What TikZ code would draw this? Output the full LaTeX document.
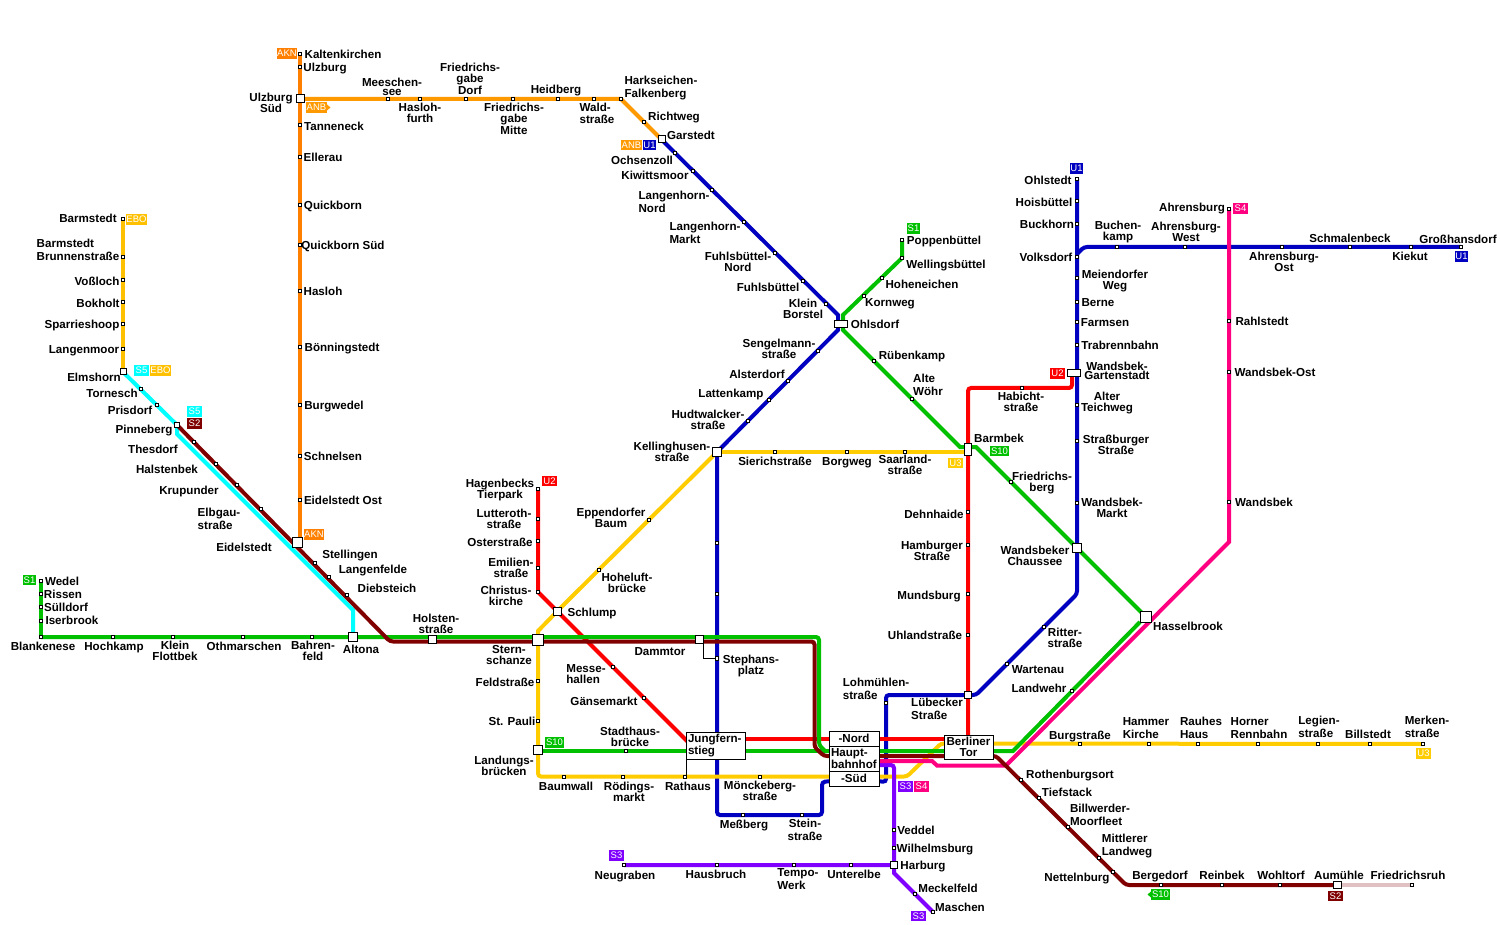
\documentclass[tikz,border=0pt]{standalone}
\usepackage{fontspec}
\setmainfont{Liberation Sans}
\definecolor{cakn}{HTML}{FF8000}
\definecolor{canb}{HTML}{FF9900}
\definecolor{cebo}{HTML}{FFC000}
\definecolor{cuthree}{HTML}{FFCC00}
\definecolor{cuone}{HTML}{0000C0}
\definecolor{cutwo}{HTML}{FF0000}
\definecolor{csone}{HTML}{00C000}
\definecolor{cstwo}{HTML}{800000}
\definecolor{csthree}{HTML}{8000FF}
\definecolor{csfour}{HTML}{FF0080}
\definecolor{csfive}{HTML}{00FFFF}
\definecolor{cpale}{HTML}{E0C0C0}
\pgfdeclarelayer{lines}
\pgfsetlayers{lines,main}
\tikzset{
  stop/.style={draw=black,fill=white,line width=1pt,minimum size=3.8pt,inner sep=0pt,outer sep=0pt},
  hub/.style={draw=black,fill=white,line width=1pt,inner sep=0pt,outer sep=0pt},
  lab/.style={inner sep=0pt,outer sep=0pt,yshift=-1pt,text=black,font=\fontsize{11.6}{11}\selectfont\bfseries},
  tag/.style={inner sep=0pt,outer sep=0pt,text=white,minimum height=10.5pt,font=\fontsize{9.5}{10}\selectfont},
  boxed/.style={draw=black,fill=white,line width=1pt,inner sep=1.5pt,outer sep=0pt,text=black,font=\fontsize{11.6}{12.5}\selectfont\bfseries},
  rail/.style={line width=4pt,line join=miter,line cap=butt},
  railr/.style={rail,rounded corners=3pt},
  thin/.style={draw=black,line width=0.9pt}
}
\newcommand{\stn}[3]{\node[stop] (#1) at (#2,#3) {};}
\newcommand{\hb}[5]{\node[hub,minimum width=#4pt,minimum height=#5pt] (#1) at (#2,#3) {};}
\newcommand{\lab}[5][center]{\node[lab,align=#1] (l#2) at (#3,#4) {\rule{0pt}{9pt}#5\rule[-2.5pt]{0pt}{2.5pt}};}
\newcommand{\tagn}[6]{\node[tag,fill=#5,minimum width=#6pt] (#1) at (#3,#4) {#2};}
\begin{document}
\begin{tikzpicture}[x=1pt,y=-1pt]
\useasboundingbox (0,0) rectangle (1500,925);
% ---- AKN
\stn{kalt}{300}{54}\stn{ulzb}{300}{67}\hb{ulzs}{300}{99}{8}{8}\stn{tann}{300}{125}\stn{elle}{300}{157}
\stn{quic}{300}{205}\stn{quis}{300}{245}\stn{hasl}{300}{291}\stn{boen}{300}{347}\stn{burg}{300}{405}
\stn{schn}{300}{456}\stn{eido}{300}{500}
% ---- ANB
\stn{mees}{388}{99}\stn{hafu}{420}{99}\stn{frdo}{466}{99}\stn{frmi}{513}{99}\stn{heid}{558}{99}
\stn{wald}{594}{99}\stn{hark}{621}{99}\stn{rich}{644}{122}\hb{gars}{661.5}{139.5}{7}{7}
% ---- U1
\stn{ochs}{675}{153}\stn{kiwi}{693}{171}\stn{lano}{712}{190}\stn{lama}{744}{222}\stn{funo}{775}{253}
\stn{fuhl}{803}{281}\stn{kbor}{826}{304}\hb{ohls}{841}{324}{13}{7}\stn{seng}{818}{351}\stn{alst}{788}{381}
\stn{latt}{769}{400}\stn{hudt}{748}{421}\hb{kell}{717}{452}{9}{9}\stn{klos}{717}{543}\stn{hall}{717}{594}
\stn{step}{717}{658.5}\stn{mess}{743}{815}\stn{stei}{802}{815}\stn{lohm}{886}{703}\hb{lueb}{968}{695}{7}{7}
\stn{wart}{1007}{664}\stn{ritt}{1044}{627}\hb{wach}{1077}{548}{9}{9}\stn{wama}{1077}{503}\stn{stra}{1077}{441}
\stn{alte}{1077}{405}\hb{wgar}{1074}{373}{13}{7}\stn{trab}{1077}{345}\stn{farm}{1077}{322}\stn{bern}{1077}{302}
\stn{meie}{1077}{278}\stn{volk}{1077}{257}\stn{buck}{1077}{224}\stn{hois}{1077}{201}\stn{ohlt}{1077}{179}
\stn{buch}{1117}{247}\stn{ahwe}{1185}{247}\stn{ahos}{1282}{247}\stn{schm}{1350}{247}\stn{kiek}{1411}{247}\stn{gros}{1461}{247}
% ---- U2
\stn{hage}{538}{489}\stn{lutt}{538}{519}\stn{oste}{538}{541}\stn{emil}{538}{568}\stn{chri}{538}{592}
\hb{schl}{557.5}{611}{8}{8}\stn{mehs}{613}{667}\stn{gaen}{644}{698}
\stn{uhla}{968}{635}\stn{muns}{968}{594}\stn{hams}{968}{545}\stn{dehn}{968}{512}\hb{barm}{968}{449}{7}{12}\stn{habi}{1022}{388}
% ---- U3
\stn{eppe}{649}{520}\stn{hohe}{599}{570}\hb{ster}{538}{640}{11}{11}\stn{feld}{538}{681}\stn{paul}{538}{721}
\hb{land}{538}{750}{9}{9}\stn{baum}{564}{777}\stn{roed}{623}{777}\stn{rath}{685}{777}\stn{moen}{760}{777}
\stn{sier}{775}{452}\stn{borg}{847}{452}\stn{saar}{905}{452}
\stn{bust}{1080}{744}\stn{hamm}{1149}{744}\stn{rauh}{1198}{744}\stn{horn}{1258}{744}\stn{legi}{1318}{744}\stn{bill}{1370}{744}\stn{merk}{1423}{744}
% ---- S1
\stn{popp}{902}{240}\stn{well}{902}{258}\stn{hone}{882}{278}\stn{korn}{864}{296}\stn{ruen}{874}{361}\stn{aweh}{912}{399}
\stn{frie}{1011}{482}\hb{hass}{1146}{617}{11}{11}\stn{lawe}{1072}{691}
\stn{wede}{41}{581}\stn{riss}{41}{594}\stn{suel}{41}{607}\stn{iser}{41}{621}\stn{blan}{41}{637}\stn{hoch}{113}{637}
\stn{flot}{173}{637}\stn{othm}{243}{637}\stn{bahr}{312}{637}\hb{alto}{353}{637}{9}{9}\hb{hols}{432}{639}{8}{8}\hb{damm}{699}{639}{8}{8}
\stn{stha}{626}{751}
% ---- S2 / S5 / EBO
\hb{pinn}{177}{425}{5.5}{5.5}\stn{thes}{194}{442}\stn{hals}{216}{464}\stn{krup}{237}{485}\stn{elbg}{261}{509}
\hb{eide}{297}{542}{10}{10}\stn{stel}{315}{563}\stn{lang}{329}{577}\stn{dieb}{347}{595}
\stn{roth}{1021}{780}\stn{tief}{1039}{798}\stn{bimo}{1068}{827}\stn{mitt}{1099}{858}\stn{nett}{1113}{872}
\stn{berg}{1161}{885}\stn{rein}{1222}{885}\stn{wohl}{1280}{885}\hb{aumu}{1337}{885}{8}{7}\stn{frru}{1412}{885}
\hb{elms}{123}{372}{6}{6}\stn{torn}{141}{389}\stn{pris}{157}{405}
\stn{barm1}{123}{219}\stn{barm2}{123}{257}\stn{voss}{123}{280}\stn{bokh}{123}{302}\stn{spar}{123}{324}\stn{lanm}{123}{349}
% ---- S3 / S4
\stn{neug}{624}{865}\stn{haus}{717}{865}\stn{temp}{794}{865}\stn{unte}{851}{865}\hb{harb}{894}{865}{7}{7}
\stn{wilh}{894}{848}\stn{vedd}{894}{830}\stn{meck}{915}{894}\stn{masc}{933}{912}
\stn{ahre}{1229}{209}\stn{rahl}{1229}{321}\stn{waos}{1229}{372}\stn{wand}{1229}{502}
% ---- boxes
\node[boxed,minimum width=59pt,minimum height=27pt,align=left,text width=55pt] (jung) at (715.5,745.5) {Jungfern-\\stieg};
\node[boxed,minimum width=50pt,minimum height=15pt,align=center,text width=46pt] (hbfn) at (854,738.5) {-Nord};
\node[boxed,minimum width=50pt,minimum height=25pt,align=left,text width=46pt] (hbfm) at (854,758.5) {Haupt-\\bahnhof};
\node[boxed,minimum width=50pt,minimum height=15pt,align=center,text width=46pt] (hbfs) at (854,778.5) {-Süd};
\node[boxed,minimum width=49pt,minimum height=24pt,align=center,text width=45pt] (bert) at (968.5,747) {Berliner\\[-2pt]Tor};
% ---- bends
\coordinate (cakne) at (300,538);
\coordinate (cuoa) at (838,315); \coordinate (cuob) at (838,330);
\coordinate (cuoc) at (717,815); \coordinate (cuod) at (822,815); \coordinate (cuoe) at (822,782);
\coordinate (cuof) at (886,782); \coordinate (cuog) at (886,695); \coordinate (cuoh) at (976,695);
\coordinate (cuoi) at (1077,594); \coordinate (cuoj) at (1077,254); \coordinate (cuok) at (1084,247);
\coordinate (curk) at (690,744);
\coordinate (curj) at (690,739); \coordinate (curb) at (950,739); \coordinate (curt) at (968,738);
\coordinate (curc) at (968,388); \coordinate (curd) at (1072,388); \coordinate (cure) at (1072,373);
\coordinate (cyst) at (538,631); \coordinate (cyco) at (538,776.5); \coordinate (cyre) at (907,776.5);
\coordinate (cyup) at (941,743.5); \coordinate (cybm) at (968,452);
\coordinate (cgoa) at (843,315); \coordinate (cgob) at (843,330); \coordinate (cgoc) at (960,447);
\coordinate (cgod) at (976,447); \coordinate (cgoe) at (1142,613); \coordinate (cgof) at (1140,622);
\coordinate (cgog) at (1013,751); \coordinate (cgoh) at (819,637); \coordinate (cgoi) at (819,745);
\coordinate (cgoj) at (825,751); \coordinate (cgow) at (41,637); \coordinate (cgol) at (538,751);
\coordinate (cbra) at (390,641.5); \coordinate (cbrb) at (814.5,641.5); \coordinate (cbrc) at (814.5,747);
\coordinate (cbrd) at (824,756); \coordinate (cbre) at (996,756); \coordinate (cbrf) at (1126,885);
\coordinate (ccya) at (177,434); \coordinate (ccyb) at (353,610);
\coordinate (cpua) at (894,873); \coordinate (cpub) at (894,765); \coordinate (cpuc) at (879,765);
\coordinate (cpia) at (1229,542); \coordinate (cpib) at (1006,765.5); \coordinate (cpic) at (937,765.5);
\coordinate (cpid) at (932,761); \coordinate (cpie) at (879,761);
% ---- lines
\begin{pgfonlayer}{lines}
\fill[white] (0,0) rectangle (1500,925);
\draw[rail,cuone] (gars.center) -- (cuoa) -- (cuob) -- (kell.center);
\draw[railr,cuone] (kell.center) -- (cuoc) -- (cuod) -- (cuoe) -- (hbfs.center);
\draw[railr,cuone] (hbfs.center) -- (cuof) -- (cuog) -- (cuoh) -- (cuoi) -- (ohlt.center);
\draw[railr,cuone] (cuoj) -- (cuok) -- (gros.center);
\draw[rail,cutwo] (hage.center) -- (chri.center) -- (curk);
\draw[rail,cutwo] (curj) -- (curb);
\draw[railr,cutwo] (curt) -- (curc) -- (curd) -- (cure);
\draw[rail,cuthree] (kell.center) -- (cybm);
\draw[rail,cuthree] (kell.center) -- (schl.center) -- (cyst) -- (ster.center);
\draw[railr,cuthree] (ster.center) -- (cyco) -- (cyre) -- (cyup) -- (merk.center);
\draw[rail,cebo] (barm1.center) -- (elms.center);
\draw[rail,cakn] (kalt.center) -- (cakne);
\draw[rail,canb] (ulzs.center) -- (hark.center) -- (gars.center);
\draw[railr,csthree] (cpuc) -- (cpub) -- (harb.center);
\draw[rail,csthree] (neug.center) -- (harb.center) -- (cpua) -- (masc.center);
\draw[rail,csfour] (ahre.center) -- (cpia) -- (cpib) -- (cpic) -- (cpid) -- (cpie);
\draw[rail,csone] (popp.center) -- (well.center) -- (cgoa) -- (cgob) -- (cgoc) -- (cgod) -- (cgoe);
\draw[rail,csone] (cgof) -- (cgog) -- (cgoj);
\draw[rail,csone] (wede.center) -- (cgow);
\draw[railr,csone] (cgow) -- (cgoh) -- (cgoi) -- (cgoj);
\draw[rail,csone] (cgol) -- (cgoj);
\draw[rail,csfive] (elms.center) -- (pinn.center) -- (ccya) -- (ccyb) -- (alto.center);
\draw[rail,cpale] (aumu.center) -- (frru.center);
\draw[railr,cstwo] (pinn.center) -- (cbra) -- (cbrb) -- (cbrc) -- (cbrd) -- (cbre) -- (cbrf) -- (aumu.center);
\draw[thin] (jung.south west) -- (jung.south west |- rath.center) -- (rath.center);
\draw[thin] (damm.south east) |- (step.center);
\end{pgfonlayer}
% ---- tags
\tagn{tAKNa}{AKN}{287}{53.5}{cakn}{20}
\tagn{tANBa}{ANB}{316.5}{107.5}{canb}{21}
\fill[canb] ([yshift=3pt]tANBa.east) -- ([xshift=3.5pt]tANBa.east) -- ([yshift=-3pt]tANBa.east) -- cycle;
\tagn{tEBOa}{EBO}{136.5}{219.5}{cebo}{21}
\tagn{tSFa}{S5}{141.5}{370.5}{csfive}{15}
\tagn{tEBOb}{EBO}{160.5}{370.5}{cebo}{21}
\tagn{tSFb}{S5}{194.5}{411.5}{csfive}{15}
\tagn{tSTa}{S2}{194.5}{423.5}{cstwo}{15}
\tagn{tAKNb}{AKN}{314}{534.5}{cakn}{20}
\tagn{tSOa}{S1}{29.5}{580}{csone}{13}
\tagn{tUTa}{U2}{549.5}{481}{cutwo}{15}
\tagn{tSXa}{S10}{554.5}{742.5}{csone}{19}
\tagn{tSRa}{S3}{616.5}{855.5}{csthree}{15}
\tagn{tANBb}{ANB}{631.5}{145}{canb}{21}
\tagn{tUOa}{U1}{649.5}{145}{cuone}{13}
\tagn{tSOb}{S1}{913.5}{228.5}{csone}{13}
\tagn{tUOb}{U1}{1076.5}{168.5}{cuone}{13}
\tagn{tSVa}{S4}{1240.5}{208.5}{csfour}{15}
\tagn{tUOc}{U1}{1461.5}{256.5}{cuone}{13}
\tagn{tUTb}{U2}{1057.5}{373.5}{cutwo}{15}
\tagn{tSXb}{S10}{999.5}{451}{csone}{19}
\tagn{tURa}{U3}{955.5}{463}{cuthree}{15}
\tagn{tSRb}{S3}{905.5}{786.5}{csthree}{15}
\tagn{tSVb}{S4}{921.5}{786.5}{csfour}{15}
\tagn{tURb}{U3}{1423.5}{753.5}{cuthree}{15}
\tagn{tSXc}{S10}{1160.5}{894.5}{csone}{19}
\fill[csone] ([yshift=3pt]tSXc.west) -- ([xshift=-3.5pt]tSXc.west) -- ([yshift=-3pt]tSXc.west) -- cycle;
\tagn{tSTb}{S2}{1335.5}{896}{cstwo}{15}
\tagn{tSRc}{S3}{918.5}{916}{csthree}{15}
% ---- labels
\lab{kalt}{343}{54}{Kaltenkirchen}
\lab{ulzb}{325}{67}{Ulzburg}
\lab{ulzs}{271}{102.5}{Ulzburg\\Süd}
\lab{tann}{334}{126}{Tanneneck}
\lab{elle}{323}{157}{Ellerau}
\lab{quic}{333}{205}{Quickborn}
\lab{quis}{343}{245}{Quickborn Süd}
\lab{hasl}{323}{291}{Hasloh}
\lab{boen}{342}{347}{Bönningstedt}
\lab{burg}{334}{405}{Burgwedel}
\lab{schn}{333}{456}{Schnelsen}
\lab{eido}{343}{500}{Eidelstedt Ost}
\lab{mees}{392}{87}{Meeschen-\\[-2pt]see}
\lab{hafu}{420}{113}{Hasloh-\\furth}
\lab{frdo}{470}{79}{Friedrichs-\\gabe\\[1pt]Dorf}
\lab{frmi}{514}{119}{Friedrichs-\\gabe\\[1pt]Mitte}
\lab{heid}{556}{89}{Heidberg}
\lab[left]{wald}{597}{113}{Wald-\\[1pt]straße}
\lab[left]{hark}{661}{87}{Harkseichen-\\[2pt]Falkenberg}
\lab{rich}{674}{116}{Richtweg}
\lab{gars}{691}{135}{Garstedt}
\lab{ochs}{642}{160}{Ochsenzoll}
\lab{kiwi}{655}{175}{Kiwittsmoor}
\lab[left]{lano}{674}{202}{Langenhorn-\\[2pt]Nord}
\lab[left]{lama}{705}{233}{Langenhorn-\\[2pt]Markt}
\lab{funo}{738}{262}{Fuhlsbüttel-\\Nord}
\lab{fuhl}{768}{287}{Fuhlsbüttel}
\lab{kbor}{803}{309}{Klein\\Borstel}
\lab{ohls}{875}{324}{Ohlsdorf}
\lab{popp}{944}{240}{Poppenbüttel}
\lab{well}{946}{264}{Wellingsbüttel}
\lab{hone}{922}{284}{Hoheneichen}
\lab{korn}{890}{302}{Kornweg}
\lab{ohlt}{1048}{180}{Ohlstedt}
\lab{hois}{1044}{202}{Hoisbüttel}
\lab{buck}{1047}{224}{Buckhorn}
\lab{volk}{1046}{257}{Volksdorf}
\lab{buch}{1118}{231}{Buchen-\\kamp}
\lab{ahwe}{1186}{232}{Ahrensburg-\\West}
\lab{ahre}{1192}{207}{Ahrensburg}
\lab{ahos}{1284}{262}{Ahrensburg-\\Ost}
\lab{schm}{1350}{238}{Schmalenbeck}
\lab{gros}{1458}{239}{Großhansdorf}
\lab{kiek}{1410}{256}{Kiekut}
\lab{meie}{1115}{280}{Meiendorfer\\Weg}
\lab{bern}{1098}{302}{Berne}
\lab{farm}{1105}{322}{Farmsen}
\lab{trab}{1120}{345}{Trabrennbahn}
\lab{wgar}{1117}{371}{Wandsbek-\\[-2pt]Gartenstadt}
\lab{rahl}{1262}{321}{Rahlstedt}
\lab{waos}{1275}{372}{Wandsbek-Ost}
\lab{alte}{1107}{402}{Alter\\Teichweg}
\lab{habi}{1021}{402}{Habicht-\\straße}
\lab{stra}{1116}{445}{Straßburger\\Straße}
\lab{wama}{1112}{508}{Wandsbek-\\Markt}
\lab{barm}{999}{438}{Barmbek}
\lab{frie}{1042}{482}{Friedrichs-\\berg}
\lab{wach}{1035}{556}{Wandsbeker\\Chaussee}
\lab{hass}{1188}{626}{Hasselbrook}
\lab{wand}{1264}{502}{Wandsbek}
\lab{ritt}{1065}{638}{Ritter-\\straße}
\lab{wart}{1038}{669}{Wartenau}
\lab{lawe}{1039}{688}{Landwehr}
\lab[left]{lueb}{937}{709}{Lübecker\\[2pt]Straße}
\lab[left]{lohm}{876}{689}{Lohmühlen-\\[2pt]straße}
\lab{uhla}{925}{635}{Uhlandstraße}
\lab{muns}{929}{595}{Mundsburg}
\lab{hams}{932}{551}{Hamburger\\Straße}
\lab{dehn}{934}{514}{Dehnhaide}
\lab{saar}{905}{465}{Saarland-\\straße}
\lab{borg}{847}{461}{Borgweg}
\lab{sier}{775}{461}{Sierichstraße}
\lab[left]{aweh}{928}{385}{Alte\\[2pt]Wöhr}
\lab{ruen}{912}{355}{Rübenkamp}
\lab{seng}{779}{349}{Sengelmann-\\straße}
\lab{alst}{757}{374}{Alsterdorf}
\lab{latt}{731}{393}{Lattenkamp}
\lab{hudt}{708}{420}{Hudtwalcker-\\straße}
\lab{kell}{672}{452}{Kellinghusen-\\straße}
\lab{hage}{500}{489}{Hagenbecks\\Tierpark}
\lab{lutt}{504}{519}{Lutteroth-\\straße}
\lab{oste}{500}{542}{Osterstraße}
\lab{emil}{511}{568}{Emilien-\\straße}
\lab{chri}{506}{596}{Christus-\\kirche}
\lab{eppe}{611}{518}{Eppendorfer\\Baum}
\lab{hohe}{627}{583}{Hoheluft-\\brücke}
\lab{schl}{592}{612}{Schlump}
\lab{hols}{436}{624}{Holsten-\\straße}
\lab{ster}{509}{655}{Stern-\\schanze}
\lab{damm}{660}{651}{Dammtor}
\lab{step}{751}{665}{Stephans-\\platz}
\lab[left]{mehs}{586}{674}{Messe-\\hallen}
\lab{feld}{505}{682}{Feldstraße}
\lab{gaen}{604}{701}{Gänsemarkt}
\lab{paul}{512}{721}{St. Pauli}
\lab{stha}{630}{737}{Stadthaus-\\brücke}
\lab{land}{504}{766}{Landungs-\\brücken}
\lab{baum}{566}{786}{Baumwall}
\lab{roed}{629}{792}{Rödings-\\markt}
\lab{rath}{688}{786}{Rathaus}
\lab{moen}{760}{791}{Mönckeberg-\\straße}
\lab{mess}{744}{824}{Meßberg}
\lab{stei}{805}{830}{Stein-\\[2pt]straße}
\lab{vedd}{916}{830}{Veddel}
\lab{wilh}{935}{848}{Wilhelmsburg}
\lab{harb}{923}{865}{Harburg}
\lab{meck}{948}{888}{Meckelfeld}
\lab{masc}{960}{907}{Maschen}
\lab{neug}{625}{875}{Neugraben}
\lab{haus}{716}{874}{Hausbruch}
\lab[left]{temp}{798}{879}{Tempo-\\[2pt]Werk}
\lab{unte}{854}{874}{Unterelbe}
\lab{roth}{1070}{774}{Rothenburgsort}
\lab{tief}{1067}{792}{Tiefstack}
\lab[left]{bimo}{1100}{815}{Billwerder-\\[2pt]Moorfleet}
\lab[left]{mitt}{1127}{845}{Mittlerer\\[2pt]Landweg}
\lab{nett}{1077}{877}{Nettelnburg}
\lab{berg}{1160}{875}{Bergedorf}
\lab{rein}{1222}{875}{Reinbek}
\lab{wohl}{1281}{875}{Wohltorf}
\lab{aumu}{1339}{875}{Aumühle}
\lab{frru}{1408}{875}{Friedrichsruh}
\lab{bust}{1080}{735}{Burgstraße}
\lab[left]{hamm}{1146}{728}{Hammer\\[2pt]Kirche}
\lab[left]{rauh}{1201}{728}{Rauhes\\[2pt]Haus}
\lab[left]{horn}{1259}{728}{Horner\\[2pt]Rennbahn}
\lab[left]{legi}{1319}{727}{Legien-\\[2pt]straße}
\lab{bill}{1368}{734}{Billstedt}
\lab[left]{merk}{1427}{727}{Merken-\\[2pt]straße}
\lab{barm1}{88}{218}{Barmstedt}
\lab[left]{barm2}{78}{250}{Barmstedt\\[2pt]Brunnenstraße}
\lab{voss}{97}{281}{Voßloch}
\lab{bokh}{98}{303}{Bokholt}
\lab{spar}{82}{324}{Sparrieshoop}
\lab{lanm}{84}{349}{Langenmoor}
\lab{elms}{94}{377}{Elmshorn}
\lab{torn}{112}{393}{Tornesch}
\lab{pris}{130}{410}{Prisdorf}
\lab{pinn}{144}{429}{Pinneberg}
\lab{thes}{153}{449}{Thesdorf}
\lab{hals}{167}{469}{Halstenbek}
\lab{krup}{189}{490}{Krupunder}
\lab[left]{elbg}{219}{519}{Elbgau-\\[2pt]straße}
\lab{eide}{244}{547}{Eidelstedt}
\lab{stel}{350}{554}{Stellingen}
\lab{lang}{373}{569}{Langenfelde}
\lab{dieb}{387}{588}{Diebsteich}
\lab{wede}{62}{581}{Wedel}
\lab{riss}{63}{594}{Rissen}
\lab{suel}{66}{607}{Sülldorf}
\lab{iser}{72}{620}{Iserbrook}
\lab{blan}{43}{646}{Blankenese}
\lab{hoch}{114}{646}{Hochkamp}
\lab{flot}{175}{651}{Klein\\Flottbek}
\lab{othm}{244}{646}{Othmarschen}
\lab{bahr}{313}{651}{Bahren-\\feld}
\lab{alto}{361}{649}{Altona}
\end{tikzpicture}
\end{document}
